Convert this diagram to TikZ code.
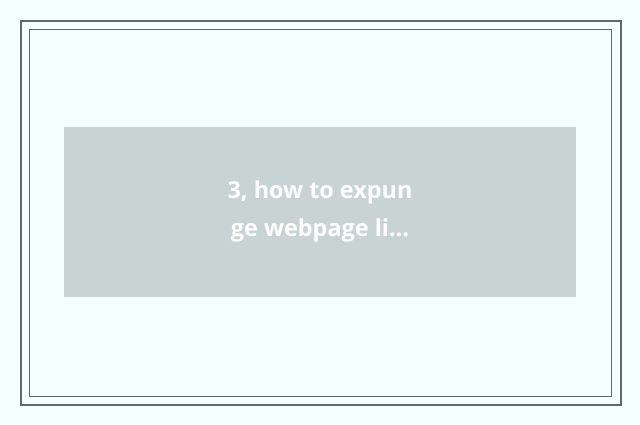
\documentclass[tikz,border=0pt]{standalone}
\usepackage{fontspec}
\setmainfont{Open Sans}
\definecolor{bg}{HTML}{F3FFFF}
\definecolor{frame}{HTML}{5A6A6A}
\definecolor{boxc}{HTML}{C8D4D4}
\begin{document}
\begin{tikzpicture}[x=1pt,y=-1pt,
  outerframe/.style={draw=frame,line width=2pt},
  innerframe/.style={draw=frame,line width=1pt},
  titlebox/.style={fill=boxc},
  caption/.style={text=white,font=\fontsize{23.4}{38}\selectfont\bfseries,align=center}]
\useasboundingbox (0,0) rectangle (640,425);
\fill[bg] (0,0) rectangle (640,425);
\draw[outerframe] (21,21) rectangle (621,405);
\draw[innerframe] (29.5,29.5) rectangle (611.5,396.5);
\path[titlebox] (64,127) rectangle (576,297);
\node[caption] (t) at (320,211) {3, how to expun\\ge webpage li…};
\end{tikzpicture}
\end{document}
